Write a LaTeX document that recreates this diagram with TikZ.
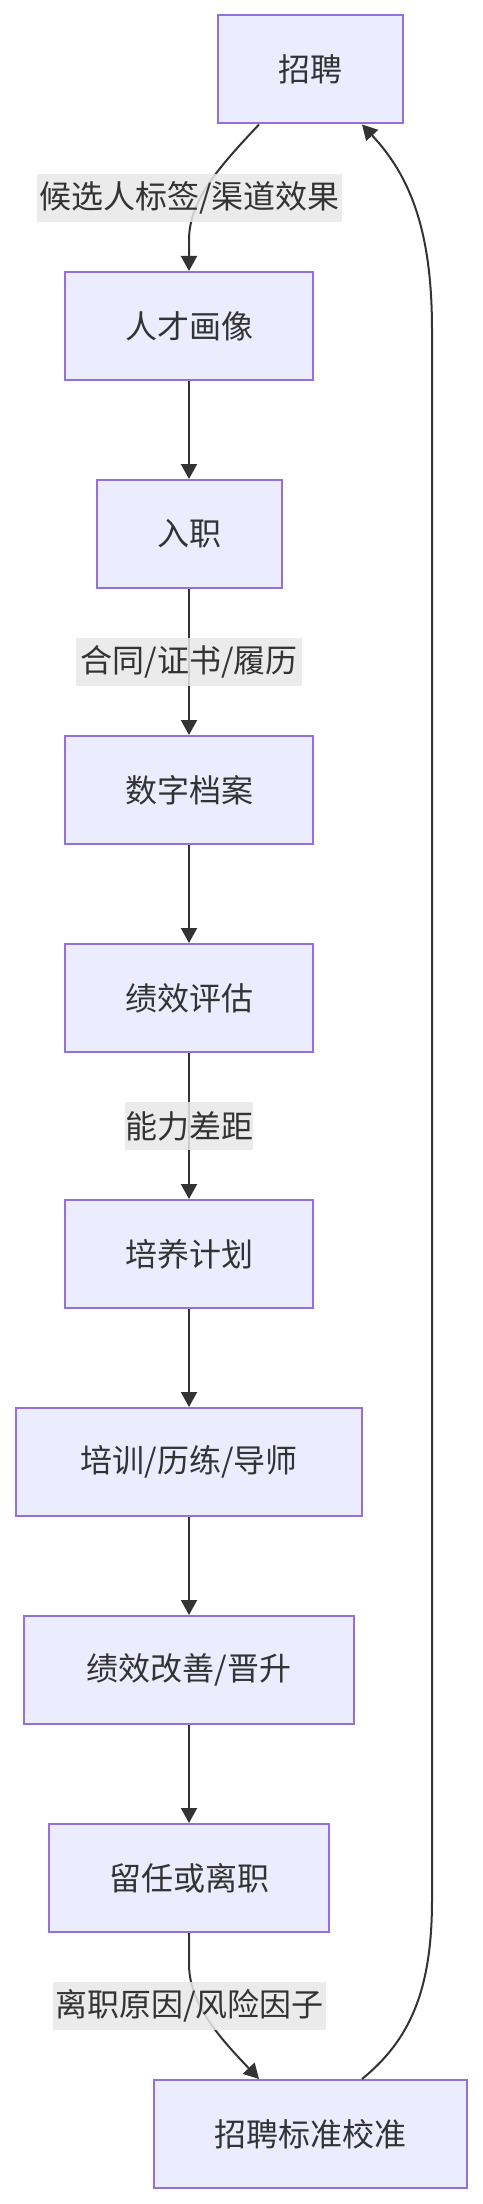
\documentclass[tikz,border=0pt]{standalone}
\usepackage{fontspec}
\setmainfont{Noto Sans CJK SC}
\usetikzlibrary{arrows.meta}

\definecolor{boxfill}{HTML}{ECECFF}
\definecolor{boxline}{HTML}{9370DB}
\definecolor{inkcol}{HTML}{333333}
\definecolor{lblfill}{HTML}{E8E8E8}

\tikzset{
  stage/.style={draw=boxline, fill=boxfill, line width=1pt, text=inkcol,
    minimum width=#1, minimum height=54pt, inner sep=0pt,
    font=\fontsize{16pt}{24pt}\selectfont},
  link/.style={draw=inkcol, line width=1pt, -{Triangle[length=7.5pt,width=8pt]}},
  lbl/.style={fill=lblfill, fill opacity=0.85, text opacity=1, text=inkcol,
    minimum width=#1, minimum height=24pt, inner sep=0pt,
    font=\fontsize{16pt}{24pt}\selectfont}
}

\begin{document}
\begin{tikzpicture}[x=1pt,y=-1pt]
    % page size, same as the reference
    \useasboundingbox (0,0) rectangle (241,1102);

    % the stages, top to bottom
    \node[stage=92.5pt] (zp) at (155.25,34.75) {招聘};
    \node[stage=124pt] (hx) at (94.5,163) {人才画像};
    \node[stage=92.5pt] (rz) at (94.5,267) {入职};
    \node[stage=124pt] (da) at (94.5,395) {数字档案};
    \node[stage=124pt] (pg) at (94.5,499) {绩效评估};
    \node[stage=124pt] (jh) at (94.5,627) {培养计划};
    \node[stage=173pt] (px) at (94.5,731) {培训/历练/导师};
    \node[stage=165pt] (gs) at (94.5,835) {绩效改善/晋升};
    \node[stage=140pt] (lr) at (94.5,939) {留任或离职};
    \node[stage=156.5pt] (jz) at (155.25,1067) {招聘标准校准};

    % straight links down the middle
    \foreach \a/\b in {hx/rz, rz/da, da/pg, pg/jh, jh/px, px/gs, gs/lr}
        \draw[link] (\a.south) -- (\b.north);

    % curved link from the top box
    \draw[link] ([xshift=-25.75pt]zp.south) .. controls (110,83) and (94.5,100) .. (94.5,120) -- (hx.north);

    % curved link into the last box
    \draw[link] (lr.south) -- (94.5,982) .. controls (94.5,1002) and (110,1019) .. ([xshift=-25.75pt]jz.north);

    % loop back up the right side
    \draw[link] ([xshift=25.75pt]jz.north) .. controls (205,1020) and (216,995) .. (216,950)
        -- (216,165) .. controls (216,115) and (205,88) .. ([xshift=25.75pt]zp.south);

    % edge labels sit over the lines
    \node[lbl=152.5pt] (l1) at (94.75,99) {候选人标签/渠道效果};
    \node[lbl=113pt] (l2) at (94.5,331) {合同/证书/履历};
    \node[lbl=64pt] (l3) at (94.5,563) {能力差距};
    \node[lbl=136.5pt] (l4) at (94.75,1003) {离职原因/风险因子};
\end{tikzpicture}
\end{document}
